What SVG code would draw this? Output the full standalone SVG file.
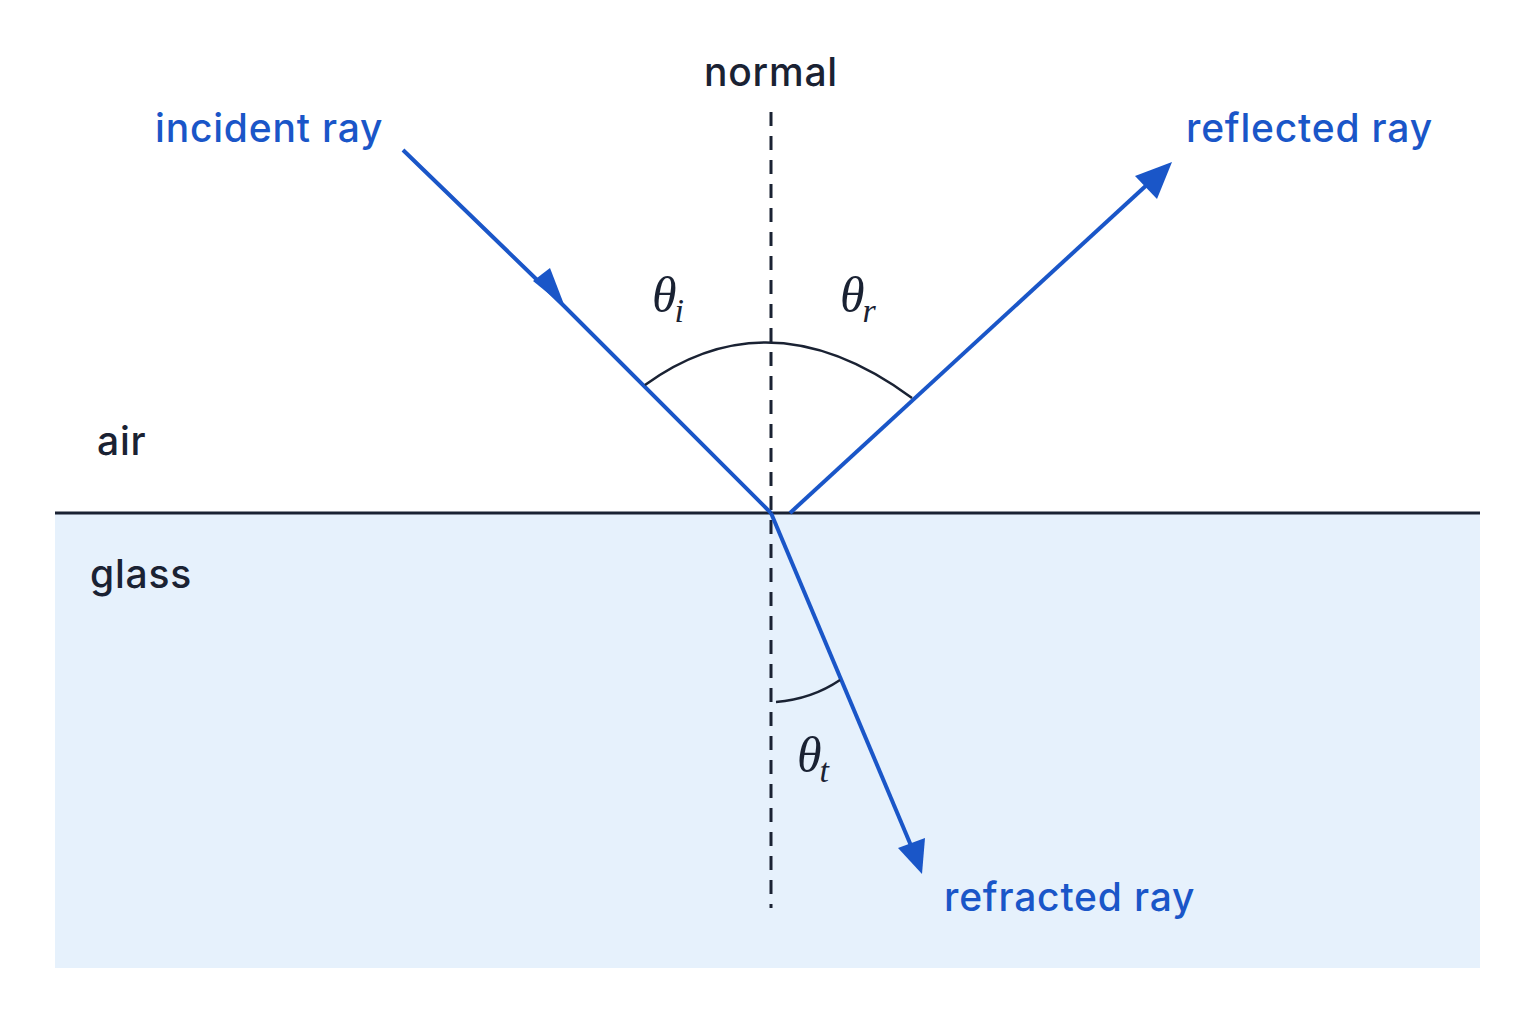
<svg xmlns="http://www.w3.org/2000/svg" width="1536" height="1024" viewBox="0 0 1536 1024">
<style>
.lbl{font-family:"Inter","Liberation Sans",sans-serif;font-size:39px;font-weight:500;letter-spacing:0.8px;fill:#1a2233}
.blue{fill:#1a56c8}
.ray{stroke:#1a56c8;stroke-width:4;fill:none}
.th{font-family:"Liberation Serif","DejaVu Serif",serif;font-style:italic;font-size:50px;fill:#1a2233}
.sub{font-size:34px}
.arc{stroke:#1a2233;stroke-width:2.5;fill:none}
</style>
<rect width="1536" height="1024" fill="#ffffff"/>
<g id="glass"><rect x="55" y="513" width="1425" height="455" fill="#e6f1fc"/></g>
<g id="interface"><line x1="55" y1="513" x2="1480" y2="513" stroke="#1a2233" stroke-width="3"/></g>
<g id="normal"><line x1="771" y1="112" x2="771" y2="908" stroke="#1a2233" stroke-width="3" stroke-dasharray="14,10"/></g>
<g id="connectors">
<path class="ray" d="M403,150 L563,305 L771,513"/>
<path d="M533,281 L565,307 L550,268 z" fill="#1a56c8"/>
<line class="ray" x1="790" y1="513" x2="1150" y2="182"/>
<path d="M1172,162 L1157,199 L1135,176 z" fill="#1a56c8"/>
<line class="ray" x1="771" y1="513" x2="912" y2="848"/>
<path d="M922,874 L898,848 L925,838 z" fill="#1a56c8"/>
</g>
<g id="arcs">
<path class="arc" d="M645,385 Q771,294 912,398"/>
<path class="arc" d="M776,702 Q812,699 840,680"/>
</g>
<g id="labels">
<text class="lbl" x="771" y="86" text-anchor="middle">normal</text>
<text class="lbl blue" x="155" y="142">incident ray</text>
<text class="lbl blue" x="1186" y="142">reflected ray</text>
<text class="lbl blue" x="944" y="911">refracted ray</text>
<text class="lbl" x="97" y="455">air</text>
<text class="lbl" x="90" y="588">glass</text>
<text class="th" x="652" y="312">θ<tspan class="sub" dx="-2" dy="10">i</tspan></text>
<text class="th" x="840" y="312">θ<tspan class="sub" dx="-2" dy="10">r</tspan></text>
<text class="th" x="797" y="772">θ<tspan class="sub" dx="-2" dy="10">t</tspan></text>
</g>
</svg>
